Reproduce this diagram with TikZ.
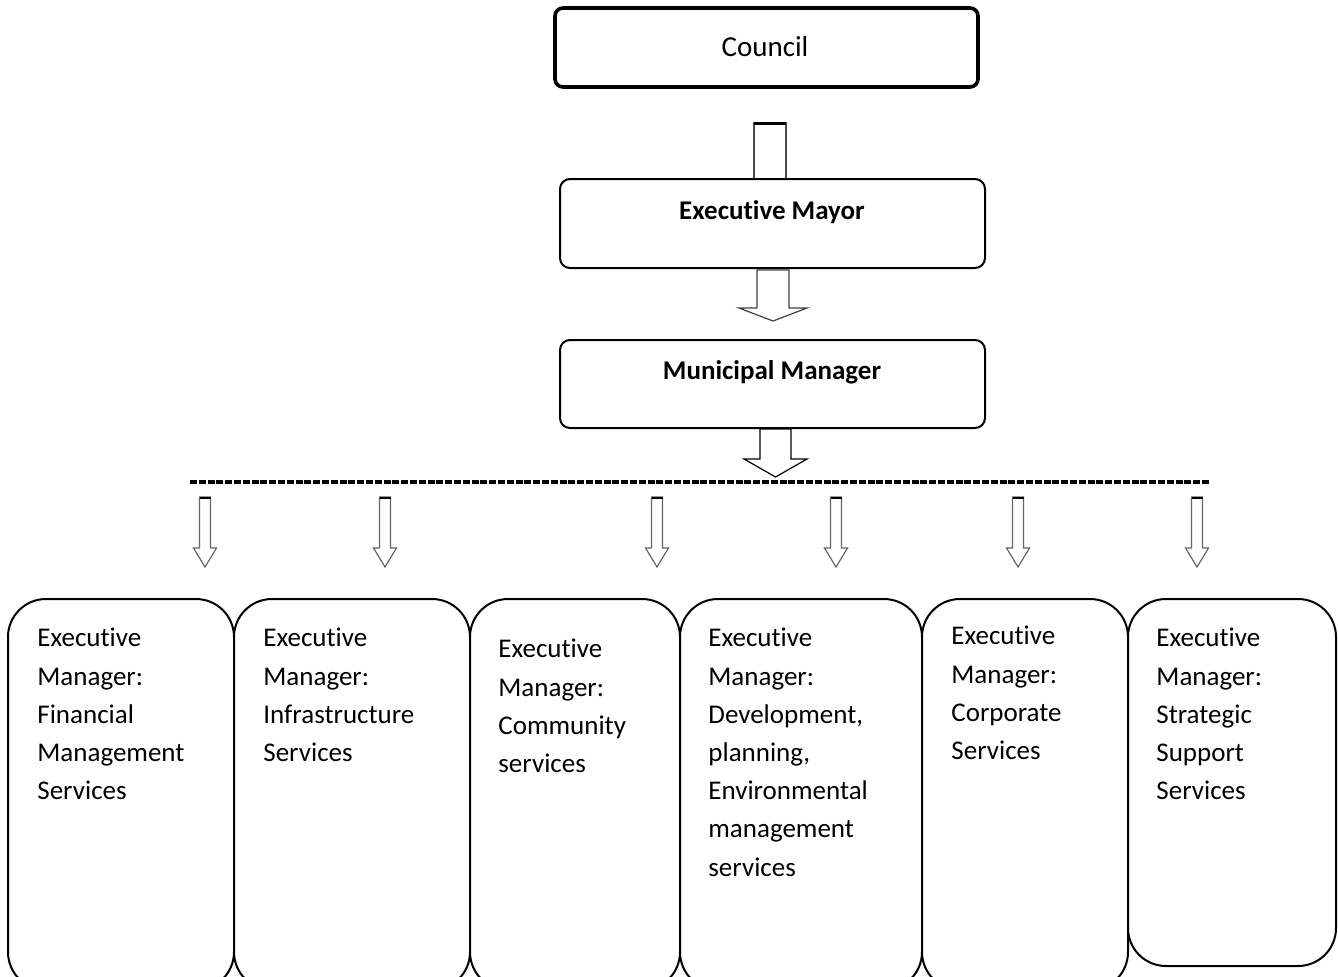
\documentclass[tikz,border=0pt]{standalone}
\usepackage{fontspec}
\setmainfont[Ligatures=NoCommon]{Carlito}
\begin{document}
\begin{tikzpicture}[x=0.5pt,y=-0.5pt,
  topbox/.style={draw,line width=1pt,rounded corners=5pt,fill=white,inner sep=0pt},
  unitbox/.style={draw,line width=1pt,rounded corners=19pt,fill=white,inner sep=0pt},
  unittext/.style={anchor=north west,inner sep=0pt,align=left,font=\fontsize{13.5}{19.1}\selectfont},
  headtext/.style={inner sep=0pt,font=\fontsize{13.5}{16}\selectfont\bfseries},
  blockarrow/.style={draw=black!75,line width=0.6pt,fill=white,line join=miter},
  smallarrow/.style={draw=black!60,line width=0.6pt,fill=white},
  dashline/.style={line width=2pt,dash pattern=on 3.5pt off 0.9pt}]
\useasboundingbox (0,0) rectangle (1338,976);
\clip (0,0) rectangle (1338,976);

% top-level boxes
\node[topbox,line width=1.8pt,rounded corners=4pt,minimum width=211.5pt,minimum height=39.5pt] (council) at (766.5,47.5) {};
\node[inner sep=0pt,font=\fontsize{14.5}{17}\selectfont] (counciltext) at (765,47) {Council};

% arrow council -> mayor (shaft, head hidden behind mayor box)
\draw[blockarrow,draw=black!70] (754,180) -- (754,123) -- (786,123) -- (786,180);
\draw[line width=1.2pt] (754,123.5) -- (786,123.5);

\node[topbox,minimum width=212.5pt,minimum height=44.5pt] (mayor) at (772.5,223.5) {};
\node[headtext] (mayortext) at (772,212) {Executive Mayor};

% arrow mayor -> manager
\draw[blockarrow] (757,270) -- (789,270) -- (789,308) -- (807,308) -- (773,321) -- (739,308) -- (757,308) -- cycle;

\node[topbox,minimum width=212.5pt,minimum height=44pt] (mm) at (772.5,384) {};
\node[headtext] (mmtext) at (772,372) {Municipal Manager};

% arrow manager -> dashed line
\draw[blockarrow,draw=black] (760,429) -- (791,429) -- (791,459) -- (807,459) -- (775.5,477) -- (744,459) -- (760,459) -- cycle;

% dashed distribution line
\coordinate (dl) at (190,482);
\coordinate (dr) at (1210,482);
\draw[dashline] (dl) -- (dr);

% small arrows
\foreach \cx in {205,385,657,836,1018,1197}{
  \draw[smallarrow] (\cx-5.5,497) -- (\cx+5.5,497) -- (\cx+5.5,548) -- (\cx+11.5,548) -- (\cx,567) -- (\cx-11.5,548) -- (\cx-5.5,548) -- cycle;
  \draw[line width=1pt] (\cx-5.5,497.5) -- (\cx+5.5,497.5);
}

% unit boxes
\node[unitbox,minimum width=113pt,minimum height=195.5pt] (u1) at (121,794.5) {};
\node[unitbox,minimum width=118pt,minimum height=195.5pt] (u2) at (352,794.5) {};
\node[unitbox,minimum width=105pt,minimum height=195.5pt] (u3) at (575,794.5) {};
\node[unitbox,minimum width=121pt,minimum height=195.5pt] (u4) at (801,794.5) {};
\node[unitbox,minimum width=103pt,minimum height=195.5pt] (u5) at (1025,794.5) {};
\node[unitbox,minimum width=104pt,minimum height=183.5pt] (u6) at (1232,782.5) {};

\node[unittext] (t1) at (37,628) {Executive\\Manager:\\Financial\\Management\\Services};
\node[unittext] (t2) at (263,628) {Executive\\Manager:\\Infrastructure\\Services};
\node[unittext] (t3) at (498,639) {Executive\\Manager:\\Community\\services};
\node[unittext] (t4) at (708,628) {Executive\\Manager:\\Development,\\planning,\\Environmental\\management\\services};
\node[unittext] (t5) at (951,626) {Executive\\Manager:\\Corporate\\Services};
\node[unittext] (t6) at (1156,628) {Executive\\Manager:\\Strategic\\Support\\Services};
\end{tikzpicture}
\end{document}
